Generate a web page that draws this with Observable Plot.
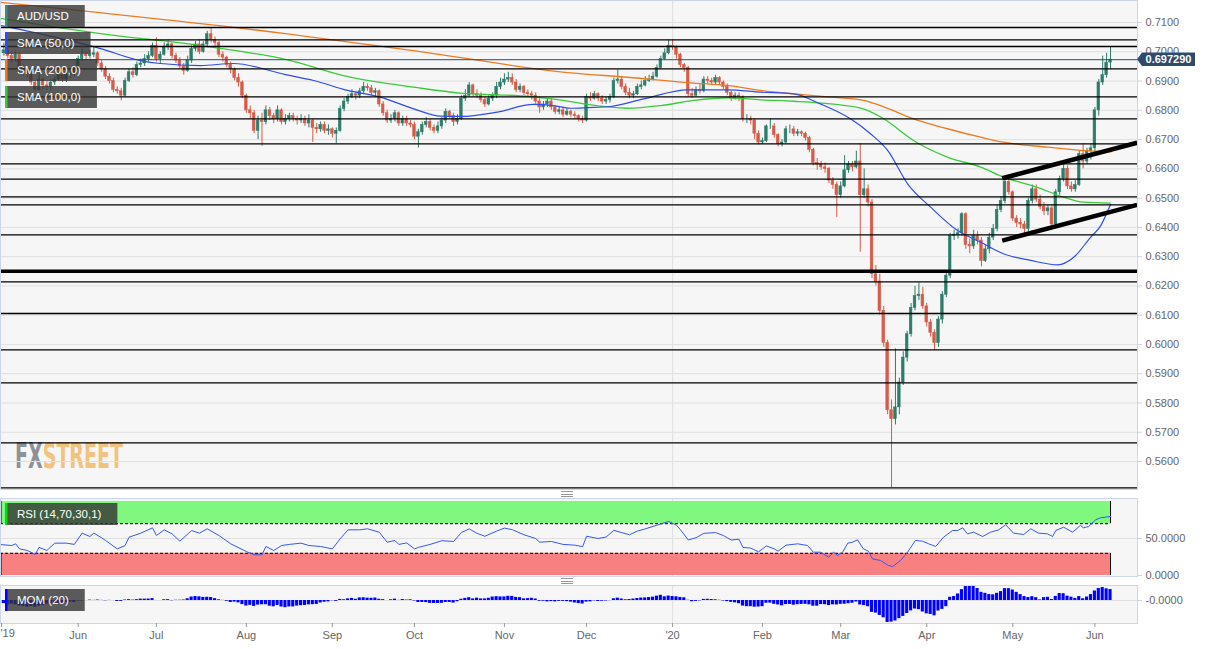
<!DOCTYPE html>
<html><head><meta charset="utf-8">
<script src="https://cdn.jsdelivr.net/npm/d3@7"></script>
<script src="https://cdn.jsdelivr.net/npm/@observablehq/plot@0.6"></script>
<style>
body{margin:0;background:#fff;font-family:"Liberation Sans",Arial,sans-serif;}
#wrap{position:relative;width:1214px;height:649px;overflow:hidden;background:#fff;}
.grip{position:absolute;left:561px;width:12px;height:4px;border-top:1px solid #9a9a9a;border-bottom:1px solid #9a9a9a;}
.grip::after{content:"";position:absolute;left:0;right:0;top:1.5px;border-top:1px solid #9a9a9a;}
</style></head><body><div id="wrap"></div>
<script>
// ---- DATA (prices in pips, x = weekday index from 6 May 2019) ----
const firstOpen = 7005;
const closes = [
6995,7005,6985,6975,6990,6940,6935,6925,6895,6870,
6905,6885,6880,6895,6905,6920,6905,6920,6925,6945,
6975,6990,6985,6990,6995,6960,6940,6915,6900,6870,
6865,6850,6900,6930,6920,6955,6960,6975,6985,7020,
6975,6990,7015,7025,6985,6970,6950,6935,6970,7010,
7025,7000,7025,7060,7040,7030,6990,6980,6955,6940,
6910,6895,6850,6800,6790,6730,6765,6760,6800,6780,
6770,6800,6760,6770,6780,6770,6765,6770,6755,6765,
6740,6735,6750,6730,6735,6720,6730,6805,6830,6845,
6855,6850,6865,6880,6875,6860,6865,6820,6790,6765,
6770,6790,6755,6770,6755,6750,6710,6725,6750,6760,
6740,6730,6745,6765,6795,6780,6760,6770,6840,6850,
6885,6855,6850,6835,6820,6840,6850,6880,6895,6905,
6910,6895,6870,6880,6860,6855,6850,6830,6810,6820,
6830,6810,6795,6800,6785,6795,6785,6780,6770,6765,
6845,6840,6855,6840,6830,6835,6845,6900,6905,6880,
6860,6850,6855,6880,6885,6900,6905,6915,6945,6975,
6995,7020,7015,6990,6955,6945,6855,6850,6870,6865,
6905,6900,6895,6910,6895,6880,6860,6840,6850,6845,
6770,6770,6765,6720,6690,6695,6745,6745,6715,6685,
6690,6735,6735,6720,6725,6720,6705,6665,6620,6615,
6605,6600,6560,6545,6510,6540,6595,6615,6605,6625,
6510,6530,6485,6240,6215,6115,6005,5775,5745,5785,
5870,5955,6035,6125,6165,6170,6130,6075,6040,6005,
6085,6170,6235,6370,6375,6380,6445,6340,6335,6370,
6355,6285,6325,6365,6395,6460,6490,6555,6520,6430,
6415,6410,6395,6490,6530,6495,6470,6455,6465,6410,
6520,6565,6600,6540,6530,6545,6650,6625,6660,6670,
6800,6895,6920,6963,6973];
const highs = [
7020,7030,7012,6995,7000,6995,6950,6945,6935,6900,
6940,6910,6900,6905,6915,6930,6925,6928,6935,6950,
6985,7010,7000,7005,7015,7000,6970,6950,6925,6910,
6880,6875,6910,6940,6945,6965,6975,6990,7000,7030,
7048,7000,7030,7040,7030,6995,6980,6960,6985,7020,
7035,7040,7035,7070,7082,7050,7035,7000,6985,6965,
6945,6925,6900,6855,6815,6800,6780,6790,6815,6810,
6790,6815,6805,6785,6790,6790,6780,6785,6780,6785,
6770,6755,6760,6760,6750,6740,6740,6815,6840,6855,
6870,6865,6875,6895,6890,6885,6875,6870,6830,6800,
6785,6800,6795,6780,6780,6765,6760,6735,6760,6775,
6770,6750,6760,6775,6805,6800,6790,6785,6850,6870,
6895,6890,6870,6860,6845,6850,6860,6895,6910,6925,
6930,6925,6905,6890,6885,6870,6865,6860,6840,6830,
6840,6840,6815,6810,6810,6805,6800,6795,6785,6780,
6855,6860,6865,6860,6850,6845,6855,6910,6938,6915,
6890,6875,6865,6890,6900,6915,6920,6930,6955,6985,
7010,7040,7040,7020,6995,6960,6950,6875,6880,6890,
6915,6915,6910,6920,6915,6900,6890,6865,6860,6860,
6850,6785,6780,6770,6730,6705,6750,6770,6755,6720,
6700,6745,6750,6745,6735,6730,6725,6710,6670,6635,
6625,6620,6605,6570,6555,6555,6645,6625,6625,6660,
6685,6600,6545,6495,6270,6240,6130,6015,5810,5985,
5885,5975,6045,6140,6198,6210,6195,6140,6085,6050,
6095,6180,6250,6380,6390,6395,6450,6450,6360,6390,
6385,6365,6340,6380,6410,6475,6505,6570,6570,6525,
6440,6430,6420,6500,6545,6545,6510,6485,6475,6475,
6530,6575,6615,6610,6555,6560,6660,6685,6670,6685,
6810,6905,6985,6995,7015];
const lows = [
6985,6985,6975,6960,6965,6930,6920,6910,6885,6865,
6865,6870,6868,6870,6885,6900,6895,6895,6910,6915,
6935,6965,6970,6975,6980,6950,6930,6905,6890,6860,
6855,6832,6845,6895,6910,6915,6945,6950,6965,6980,
6965,6960,6985,7005,6975,6960,6940,6920,6930,6960,
7000,6990,6995,7015,7030,7015,6980,6965,6945,6925,
6900,6880,6840,6790,6770,6720,6700,6677,6750,6765,
6755,6760,6750,6750,6760,6760,6750,6755,6745,6740,
6690,6720,6725,6720,6715,6705,6687,6725,6795,6820,
6840,6835,6840,6855,6865,6850,6845,6810,6780,6755,
6755,6760,6745,6745,6745,6740,6700,6671,6715,6740,
6730,6720,6720,6735,6755,6770,6745,6750,6765,6830,
6845,6845,6840,6825,6810,6815,6830,6840,6870,6885,
6895,6885,6860,6860,6850,6845,6835,6820,6790,6800,
6810,6800,6785,6785,6775,6780,6775,6770,6760,6755,
6760,6830,6835,6830,6820,6820,6825,6840,6890,6870,
6850,6840,6840,6850,6870,6880,6895,6900,6910,6940,
6970,6990,7005,6975,6945,6930,6845,6840,6845,6855,
6860,6890,6885,6885,6885,6870,6850,6830,6835,6830,
6760,6755,6750,6700,6682,6683,6690,6735,6705,6675,
6675,6685,6720,6710,6710,6710,6695,6655,6610,6595,
6595,6585,6550,6530,6434,6500,6535,6585,6590,6600,
6315,6500,6470,6225,6200,6100,5990,5760,5510,5725,
5760,5860,5940,6025,6115,6150,6120,6060,6025,5980,
5990,6070,6160,6225,6355,6360,6370,6325,6310,6325,
6340,6265,6280,6310,6355,6385,6450,6480,6510,6420,
6400,6395,6380,6385,6480,6485,6460,6440,6440,6400,
6405,6510,6555,6530,6520,6520,6540,6600,6615,6630,
6655,6780,6885,6910,6940];
// closes of the 20 sessions before the first candle (for MOM 20)
const priorCloses = [7120,7130,7165,7125,7165,7160,7175,7195,7140,7140,7130,7080,7025,7030,7045,7050,7050,7010,6990,7025];

const sma50Days = [0.1,25.7,35.9,41,51.3,59.7,73,80.2,88.9,97.3,105.8,112.7,117.8,127.2,136.4,141.6,145.9,150.3,156.1,164.6,175.8,186.1,194.5,203,209.8,217.5,222.6,227,232.1,238,244.9,250.8,256.6,263.6,270.5,274.6,278.9,281.5,284];
const sma50 = [0.7090,0.7011,0.6970,0.6960,0.6953,0.6960,0.6922,0.6902,0.6868,0.6845,0.6805,0.6780,0.6779,0.6794,0.6820,0.6816,0.6807,0.6809,0.6813,0.6839,0.6870,0.6870,0.6862,0.6856,0.6822,0.6771,0.6720,0.6663,0.6549,0.6469,0.6389,0.6349,0.6310,0.6287,0.6272,0.6298,0.6366,0.6406,0.6478];
const sma100Days = [0.1,25.7,51.3,73,89.6,105.8,118.5,127.2,135.7,145.9,150.3,160.5,168.9,177.4,186.1,194.5,203,212.4,220.8,226,233.6,242.3,250.8,256.6,265.3,272,277.1,284];
const sma100 = [0.7114,0.7062,0.7021,0.6974,0.6913,0.6879,0.6858,0.6853,0.6847,0.6830,0.6820,0.6807,0.6816,0.6834,0.6843,0.6836,0.6831,0.6822,0.6805,0.6771,0.6697,0.6640,0.6606,0.6572,0.6537,0.6503,0.6486,0.6483];
const sma200Days = [0.1,73,108.8,146,160.5,177.4,186,194.5,203,212.4,220.8,225.2,233.6,242.3,250.8,256.6,267.9,276.3,284];
const sma200 = [0.7169,0.7062,0.6998,0.6928,0.6913,0.6893,0.6885,0.6868,0.6856,0.6845,0.6834,0.6816,0.6771,0.6737,0.6708,0.6691,0.6674,0.6663,0.6658];

const levels = [0.70829,0.70409,0.70180,0.69418,0.68461,0.67710,0.66855,0.66172,0.65646,0.65045,0.64771,0.63746,0.62140,0.61057,0.59817,0.58689,0.56639,0.55102];
const boldLevel = 0.62502;
const lastPrice = 0.69729;
const trendStartDays = [256.3,256.3];
const trendStartPrices = [0.6568,0.6355];
const trendEndDays = [290.8,290.8];
const trendEndPrices = [0.6689,0.6477];

const rsiDays = [0,3,4,5,7,9,10,12,14,17,19,21,23,24,26,27,30,32,33,36,39,40,42,44,46,49,51,53,56,59,63,65,67,68,70,72,74,77,79,82,85,87,89,92,94,97,99,101,102,
104,106,107,110,113,116,118,120,122,124,127,129,131,134,137,138,141,144,147,149,150,153,155,157,159,161,163,165,168,171,173,174,176,178,180,183,185,187,189,190,192,194,196,198,199,201,204,
206.5,208,209.8,211.9,213.2,214.2,215.5,216.8,218,219.3,220.8,222.1,223.1,225.2,227.2,228.3,230.3,232.1,234.1,235.9,237.5,239.3,241.3,243.6,244.9,246.2,247.4,249,251.3,253.3,255.4,257.2,259.2,261.8,263.6,265.6,267.9,269.2,270,272,274.3,276.3,277.1,278.4,280.2,281.5,284];
const rsiVals = [41.9,40.5,42.8,36,33.8,28.4,38,33.8,43.7,43.7,42,57.2,52.7,57.2,51,47.3,36,40.5,51.8,57.2,64.4,54,61.7,56.3,46.4,60.8,57.2,63.1,54,42.8,32.4,28,28,39.2,33.8,40.5,42,43.7,40.5,39.2,36,49.6,61.7,61.7,63.1,58.5,45,47.3,42,
44,36,38,42,47,46,58,63,57,53,60,64,62,55,50,45,46,42,41,39,53,50,52,61,58,55,60,63,68,73,68,62,48,51,57,58,54,48,49,38,37,32,40,36,33,41,42.8,
40.5,31.5,31.5,24.8,31.5,27,31.5,43.7,45,48.2,36,32.8,22.5,20.3,13.5,12.2,20.3,31.5,47.3,46.4,42.8,39.2,51.8,60.8,60.8,64.4,56.3,58.5,52.7,58.5,61.7,68.5,57.2,55.4,63.1,57.2,56.3,52.7,60.8,65.3,58.5,67.6,64.4,66.2,75.3,78,79.7];
const rsiLevels = [70,30];

const priceTicks = [0.56,0.57,0.58,0.59,0.60,0.61,0.62,0.63,0.64,0.65,0.66,0.67,0.68,0.69,0.70,0.71];
const rsiTicks = [0,50];
const momTicks = [0];
const momTickLabels = ["-0.0000"];
const monthTickDays = [0.4,20,40,63,85,106,129,150,172,195,215,237,259,280];
const monthLabels = ["'19","Jun","Jul","Aug","Sep","Oct","Nov","Dec","'20","Feb","Mar","Apr","May","Jun"];
const yearStartDay = 172;
const legendNames = ["AUD/USD","SMA (50,0)","SMA (200,0)","SMA (100,0)"];
const rsiName = "RSI (14,70,30,1)";
const momName = "MOM (20)";
const wmParts = ["FX","STREET"];

// ---- styles ----
const UP = "#2e7d69", DOWN = "#d65b49";
const C50 = "#2f4cf0", C100 = "#3acb3a", C200 = "#ef7a22";
const legendColors = ["#3a8f76", C50, C200, C100];
const W = 1214, MR = 77;
const X_DOMAIN = [0.13, 290.9];
const FONT = "Liberation Sans, Arial, sans-serif";
const baseStyle = {background:"transparent", fontFamily: FONT, fontSize:"11px", color:"#666", overflow:"visible"};

// ---- tables ----
const N = Math.min(closes.length, highs.length, lows.length);
const candles = d3.range(N).map(i => {
  const open = (i === 0 ? firstOpen : closes[i-1]) / 1e4, close = closes[i]/1e4;
  return {d:i, open, close, high:highs[i]/1e4, low:lows[i]/1e4, col: close >= open ? UP : DOWN};
});
const lastDay = N - 1;
const mom = d3.range(N).map(i => ({d:i, m:(closes[i] - (i >= 20 ? closes[i-20] : priorCloses[i]))/1e4}));
const smaTable = (days, vals) => days.map((d,i) => ({d, v: vals[i]}));
const trends = trendStartDays.map((d,i) => ({d1:d, p1:trendStartPrices[i], d2:trendEndDays[i], p2:trendEndPrices[i]}));
const rsi = rsiDays.map((d,i) => ({d, v: rsiVals[i]}));
const monthMap = new Map(monthTickDays.map((d,i) => [d, monthLabels[i]]));

const wrap = document.getElementById("wrap");
function place(el, top){ el.style.position="absolute"; el.style.left="0px"; el.style.top=top+"px"; wrap.appendChild(el); }
function labelBox(svg, x, y, h, stripe, text, bgOpacity){
  const g = d3.select(svg).append("g");
  const r = g.append("rect").attr("x",x).attr("y",y).attr("height",h).attr("fill","#333").attr("fill-opacity",bgOpacity);
  g.append("rect").attr("x",x).attr("y",y).attr("width",2.5).attr("height",h).attr("fill",stripe);
  const t = g.append("text").attr("x",x+12).attr("y",y+h/2+4).attr("text-anchor","start").attr("fill","#fff").attr("font-size","11.5px").attr("font-family",FONT).text(text);
  let w = 0; try { w = t.node().getComputedTextLength(); } catch(e) { w = text.length*6.5; }
  if (!w) w = text.length*6.5;
  r.attr("width", w + 28);
}

// ---- main price panel ----
const main = Plot.plot({
  width: W, height: 492, marginLeft: 0, marginRight: MR, marginTop: 0, marginBottom: 3,
  style: baseStyle,
  x: {domain: X_DOMAIN, axis: null},
  y: {domain: [0.55044, 0.71752], axis: null},
  color: {type: "identity"},
  marks: [
    Plot.frame({fill: "#f6f6f6", stroke: null}),
    Plot.ruleY(priceTicks, {stroke: "#e0e0e0"}),
    Plot.ruleX([yearStartDay], {stroke: "#e0e0e0"}),
    Plot.ruleX(candles, {x: "d", y1: "low", y2: "high", stroke: "col", strokeWidth: 1}),
    Plot.rect(candles, {x1: d => d.d - 0.33, x2: d => d.d + 0.33, y1: "open", y2: "close", fill: "col", stroke: "col", strokeWidth: 0.6}),
    Plot.line(smaTable(sma200Days, sma200), {x: "d", y: "v", stroke: C200, strokeWidth: 1.3, curve: "monotone-x"}),
    Plot.line(smaTable(sma100Days, sma100), {x: "d", y: "v", stroke: C100, strokeWidth: 1.3, curve: "monotone-x"}),
    Plot.line(smaTable(sma50Days, sma50), {x: "d", y: "v", stroke: C50, strokeWidth: 1.2, curve: "monotone-x"}),
    Plot.ruleY(levels, {stroke: "#000", strokeWidth: 1.3}),
    Plot.ruleY([boldLevel], {stroke: "#000", strokeWidth: 3.6}),
    Plot.ruleY([lastPrice], {stroke: "#2d4a6d", strokeWidth: 1}),
    Plot.link(trends, {x1: "d1", y1: "p1", x2: "d2", y2: "p2", stroke: "#000", strokeWidth: 4.5}),
    Plot.frame({stroke: "#ccd6eb"}),
    Plot.axisY({anchor: "right", label: null, ticks: priceTicks, tickFormat: d3.format(".4f"), tickSize: 4, tickPadding: 4, stroke: "#ccd6eb"})
  ]
});
place(main, 0);
{
  const sx = main.scale("x"), sy = main.scale("y");
  const left = sx.range[0];
  const svg = d3.select(main);
  // watermark (one text, two colours), placed under the grid
  const wm = svg.append("text").attr("x", left+15).attr("y", sy.range[0] - 21)
    .attr("font-family","DejaVu Sans Condensed, DejaVu Sans, sans-serif").attr("font-weight","bold").attr("font-size","35px")
    .attr("text-anchor","start").attr("textLength",108).attr("lengthAdjust","spacingAndGlyphs");
  wm.append("tspan").attr("fill","#8d9199").text(wmParts[0]);
  wm.append("tspan").attr("fill","#f2c27f").text(wmParts[1]);
  const frame = main.querySelector('[aria-label="frame"]');
  if (frame) frame.after(wm.node());
  // legend boxes
  const ys = [5, 32, 59, 86];
  legendNames.forEach((n,i) => labelBox(main, 5, ys[i], 22, legendColors[i], n, 0.8));
  // last price tag
  const yp = sy.apply(lastPrice), xr = sx.range[1];
  const g = svg.append("g");
  g.append("path").attr("d", `M${xr},${yp} L${xr+5},${yp-6.8} L${xr+58},${yp-6.8} L${xr+58},${yp+6.8} L${xr+5},${yp+6.8} Z`).attr("fill","#2e4a6d");
  g.append("text").attr("x", xr+31.5).attr("y", yp+4).attr("text-anchor","middle").attr("fill","#fff").attr("font-weight","bold").attr("font-size","11px").attr("font-family",FONT).text(d3.format(".6f")(lastPrice));
}

// ---- RSI panel ----
const rsiPlot = Plot.plot({
  width: W, height: 84, marginLeft: 0, marginRight: MR, marginTop: 3, marginBottom: 3,
  style: baseStyle,
  x: {domain: X_DOMAIN, axis: null},
  y: {domain: [-1.35, 104.05], axis: null},
  marks: [
    Plot.frame({fill: "#f6f6f6", stroke: null}),
    Plot.ruleY([50], {stroke: "#e0e0e0"}),
    Plot.ruleX([yearStartDay], {stroke: "#e0e0e0"}),
    Plot.rect([0], {x1: () => X_DOMAIN[0], x2: () => lastDay, y1: () => rsiLevels[0], y2: () => 100, fill: "#80f880"}),
    Plot.rect([0], {x1: () => X_DOMAIN[0], x2: () => lastDay, y1: () => 0, y2: () => rsiLevels[1], fill: "#f88080"}),
    Plot.ruleY(rsiLevels, {x1: () => X_DOMAIN[0], x2: () => lastDay, stroke: "#000", strokeDasharray: "3,2"}),
    Plot.ruleX([lastDay], {y1: () => rsiLevels[0], y2: () => 100, stroke: "#000"}),
    Plot.ruleX([lastDay], {y1: () => 0, y2: () => rsiLevels[1], stroke: "#000"}),
    Plot.ruleX([X_DOMAIN[0]], {y1: () => rsiLevels[0], y2: () => 100, stroke: "#000", dx: 0.5}),
    Plot.ruleX([X_DOMAIN[0]], {y1: () => 0, y2: () => rsiLevels[1], stroke: "#000", dx: 0.5}),
    Plot.line(rsi, {x: "d", y: "v", stroke: "#3558f2", strokeWidth: 1}),
    Plot.frame({stroke: "#ccd6eb"}),
    Plot.axisY({anchor: "right", label: null, ticks: rsiTicks, tickFormat: d3.format(".4f"), tickSize: 4, tickPadding: 4, stroke: "#ccd6eb"})
  ]
});
place(rsiPlot, 495);
labelBox(rsiPlot, 5, 8, 22, "#00e000", rsiName, 0.8);

// ---- MOM panel + time axis ----
const momPlot = Plot.plot({
  width: W, height: 67, marginLeft: 0, marginRight: MR, marginTop: 3, marginBottom: 26,
  style: baseStyle,
  x: {domain: X_DOMAIN, axis: null},
  y: {domain: [-0.0931, 0.0607], axis: null},
  marks: [
    Plot.frame({fill: "#f6f6f6", stroke: null}),
    Plot.ruleY([0], {stroke: "#e0e0e0"}),
    Plot.ruleX([yearStartDay], {stroke: "#e0e0e0"}),
    Plot.rect(mom, {x1: d => d.d - 0.4, x2: d => d.d + 0.4, y1: () => 0, y2: "m", fill: "#0000ff"}),
    Plot.frame({stroke: "#ccd6eb"}),
    Plot.axisY({anchor: "right", label: null, ticks: momTicks, tickFormat: (d,i) => momTickLabels[i], tickSize: 4, tickPadding: 4, stroke: "#ccd6eb"}),
    Plot.axisX({anchor: "bottom", label: null, ticks: monthTickDays, tickFormat: d => d === monthTickDays[0] ? "" : monthMap.get(d), tickSize: 4, tickPadding: 4, stroke: "#999"}),
    Plot.text([monthLabels[0]], {x: () => X_DOMAIN[0], frameAnchor: "bottom", textAnchor: "start", dy: 13, text: d => d, fill: "#666"})
  ]
});
place(momPlot, 582);
labelBox(momPlot, 5, 7, 22, "#0000ff", momName, 0.8);

// grips
[491, 578].forEach(t => { const g = document.createElement("div"); g.className = "grip"; g.style.top = t + "px"; wrap.appendChild(g); });
</script></body></html>
